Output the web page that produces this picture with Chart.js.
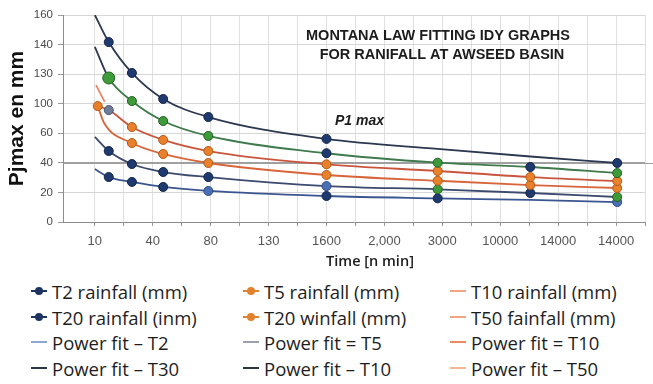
<!DOCTYPE html>
<html>
<head>
<meta charset="utf-8">
<script src="https://cdn.jsdelivr.net/npm/chart.js@4.4.1/dist/chart.umd.min.js"></script>
<style>
  body { margin:0; background:#fff; width:653px; height:384px; overflow:hidden; font-family:"Open Sans", sans-serif; }
  #wrap { position:absolute; left:0; top:0; width:653px; height:276px; }
  .item { position:absolute; height:24px; display:flex; align-items:center; font-size:18.5px; color:#1e1e1e; white-space:nowrap; }
  .icon { position:relative; width:16px; height:24px; margin-right:5px; flex:none; }
  .icon .ln { position:absolute; left:0; right:0; top:11px; height:2px; }
  .icon .dot { position:absolute; left:4px; top:8px; width:8px; height:8px; border-radius:50%; }
</style>
</head>
<body>
<div id="wrap"><canvas id="myChart" width="653" height="276"></canvas></div>
<div id="legend"></div>
<script>
/////////// data
// x tick labels, one per label step (0..9)
const xLabels = ['10', '40', '80', '130', '1600', '2,000', '3000', '10000', '14000', '14000'];
// printed y labels, they sit on the gridlines 0,20,...,140
const yLabels = ['0', '20', '40', '60', '100', '130', '140', '160'];

// where the fitted curves were read (in label steps)
const fitX  = [0, 0.24, 0.64, 1.18, 1.96, 4.0, 5.92, 7.52, 9.02];
const fitXC = [0.05, 0.24, 0.64, 1.18, 1.96, 4.0, 5.92, 7.52, 9.02];
const fitXD = [0.05, 0.16, 0.64, 1.18, 1.96, 4.0, 5.92, 7.52, 9.02];
// where the observed points sit
const obsX  = [0.05, 0.24, 0.64, 1.18, 1.96, 4.0, 5.92, 7.52, 9.02];

// power fit curves
const fitA = [140.0, 121.7, 100.8, 83.2, 71.0, 56.2, 49.4, 44.3, 39.9];
const fitB = [118.4, 97.4, 81.8, 68.3, 58.2, 46.5, 40.1, 37.2, 33.1];
const fitC = [78.4, 75.7, 64.2, 55.5, 48.0, 39.0, 34.5, 30.4, 27.7];
const fitD = [78.4, 67.0, 53.4, 46.0, 39.9, 31.8, 27.9, 25.0, 23.0];
const fitE = [57.5, 48.0, 39.2, 33.8, 30.4, 24.3, 22.1, 19.6, 16.9];
const fitF = [35.8, 30.4, 27.1, 23.7, 21.0, 17.6, 16.0, 14.9, 13.5];

// observed rainfall points (null = no marker)
const obsA = [null, 121.7, 100.8, 83.2, 71.0, 56.2, null, null, 39.9];
const obsB = [null, 97.4, 81.8, 68.3, 58.2, 46.5, 40.1, 37.2, 33.1];
const obsC = [null, 75.7, 64.2, 55.5, 48.0, 39.0, 34.5, 30.4, 27.7];
const obsD = [78.4, null, 53.4, 46.0, 39.9, 31.8, 27.9, 25.0, 23.0];
const obsE = [null, 48.0, 39.2, 33.8, 30.4, 24.3, 22.1, 19.6, 16.9];
const obsF = [null, 30.4, 27.1, 23.7, 21.0, 17.6, 16.0, null, 13.5];

// short T10 piece at the start
const segX = [0.02, 0.17];
const segY = [92.6, 81.2];

const legendNames = ['T2 rainfall (mm)', 'T5 rainfall (mm)', 'T10 rainfall (mm)',
                     'T20 rainfall (inm)', 'T20 winfall (mm)', 'T50 fainfall (mm)',
                     'Power fit \u2013 T2', 'Power fit = T5', 'Power fit = T10',
                     'Power fit \u2013 T30', 'Power fit \u2013 T10', 'Power fit \u2013 T50'];
const legendColors = ['#1d3461', '#e2822f', '#f2a582',
                      '#1d3461', '#e2822f', '#f2a582',
                      '#8ea8d6', '#9aa1ad', '#ea8c5e',
                      '#2e3440', '#2e3440', '#f3b98e'];
const legendDots = [true, true, false, true, true, false, false, false, false, false, false, false];

const titleLines = ['MONTANA LAW FITTING IDY GRAPHS', 'FOR RANIFALL AT AWSEED BASIN'];
const xTitle = 'Time [n min]';

/////////// helpers
const mk = { n: '#1f3a6e', o: '#e8802c', g: '#3f9a3a', b: '#4a6fb5', s: '#6f7d98' };
const mkBorder = { n: '#12244a', o: '#b35a18', g: '#216321', b: '#2c4a85', s: '#465370' };

function pts(xs, ys) {
  const out = [];
  for (let i = 0; i <= xs.length - 1; i++) {
    if (ys[i] !== null) out.push({ x: xs[i], y: ys[i] });
  }
  return out;
}

function fitLine(label, xs, ys, color) {
  return {
    label: label, data: pts(xs, ys), borderColor: color, borderWidth: 1.8,
    pointRadius: 0, cubicInterpolationMode: 'monotone', order: 2
  };
}

function markers(label, ys, keys, big) {
  const cols = [], borders = [], radius = [];
  for (let i = 0; i <= ys.length - 1; i++) {
    if (ys[i] === null) continue;
    cols.push(mk[keys[i]]);
    borders.push(mkBorder[keys[i]]);
    radius.push(big === i ? 6 : 4.5);
  }
  return {
    label: label, data: pts(obsX, ys), showLine: false, order: 0,
    pointBackgroundColor: cols, pointBorderColor: borders, pointBorderWidth: 1, pointRadius: radius
  };
}

/////////// extra text and the long 40 line
const notes = {
  id: 'notes',
  beforeDatasetsDraw(chart) {
    const ctx = chart.ctx;
    const y40 = chart.scales.y.getPixelForValue(40);
    ctx.save();
    ctx.strokeStyle = '#a0a0a0';
    ctx.lineWidth = 1;
    ctx.beginPath();
    ctx.moveTo(chart.chartArea.left, Math.round(y40) + 0.5);
    ctx.lineTo(chart.width, Math.round(y40) + 0.5);
    ctx.stroke();
    ctx.restore();
  },
  afterDraw(chart) {
    const ctx = chart.ctx;
    ctx.save();
    ctx.fillStyle = '#1c1c1c';
    ctx.textAlign = 'center';
    ctx.textBaseline = 'middle';
    ctx.font = 'bold 14.5px "Liberation Sans", Arial, sans-serif';
    ctx.fillText(titleLines[0], 438, 36);
    ctx.fillText(titleLines[1], 442, 55);
    ctx.font = '600 14.5px "Open Sans", sans-serif';
    ctx.fillText(xTitle, 370, 262);
    ctx.textAlign = 'left';
    ctx.font = 'italic bold 14px "Liberation Sans", Arial, sans-serif';
    ctx.fillText('P1 max', 335, 121);
    ctx.restore();
  }
};

const xSteps = [];
for (let v = 0; v <= 9.5; v += 0.5) xSteps.push(v);

const myChart = document.getElementById('myChart');

new Chart(myChart, {
  type: 'line',
  data: {
    datasets: [
      markers('T2 rainfall (mm)', obsA, ['n','n','n','n','n','n','n','n','n']),
      markers('T10 rainfall (mm)', obsB, ['g','g','g','g','g','n','g','n','g'], 1),
      markers('T5 rainfall (mm)', obsC, ['o','s','o','o','o','o','o','o','o']),
      markers('T20 winfall (mm)', obsD, ['o','o','o','o','o','o','o','o','o']),
      markers('T50 fainfall (mm)', obsE, ['n','n','n','n','n','b','g','n','g']),
      markers('T20 rainfall (inm)', obsF, ['n','n','n','n','b','n','n','n','b']),
      fitLine('Power fit \u2013 T30', fitX, fitA, '#2c3850'),
      Object.assign(fitLine('Power fit \u2013 T10', fitX, fitB, '#3f7a4c'), {
        segment: { borderColor: c => c.p0.parsed.x < 0.2 ? '#2c3850' : undefined }
      }),
      fitLine('Power fit = T10', fitXC, fitC, '#c9553c'),
      fitLine('Power fit \u2013 T50', fitXD, fitD, '#d8643a'),
      fitLine('Power fit = T5', fitX, fitE, '#3b4a6e'),
      fitLine('Power fit \u2013 T2', fitX, fitF, '#3a5590'),
      Object.assign(fitLine('T10 rainfall (mm)', segX, segY, '#e8866a'), { cubicInterpolationMode: 'default' })
    ]
  },
  options: {
    responsive: false,
    animation: false,
    devicePixelRatio: 1,
    layout: { padding: { top: 15, right: 6, left: 0, bottom: 0 } },
    plugins: { legend: { display: false }, tooltip: { enabled: false } },
    scales: {
      x: {
        type: 'linear', min: -0.55, max: 9.5,
        afterBuildTicks: s => { s.ticks = xSteps.map(v => ({ value: v })); },
        afterFit: s => { s.height = 54; },
        grid: {
          color: '#e0e0e0', tickLength: 4, tickColor: '#9a9a9a'
        },
        border: { color: '#8c8c8c' },
        ticks: {
          autoSkip: false, maxRotation: 0, padding: 8, color: '#555',
          font: { family: '"Liberation Sans", Arial, sans-serif', size: 13 },
          callback: v => Number.isInteger(v) ? xLabels[v] : ''
        }
      },
      y: {
        min: 0, max: 140,
        ticks: {
          stepSize: 10, padding: 5, color: '#4a4a4a',
          font: { family: '"Liberation Sans", Arial, sans-serif', size: 11.5 },
          callback: v => v % 20 === 0 ? yLabels[v / 20] : ''
        },
        afterFit: s => { s.width = 63; },
        grid: {
          tickLength: 5,
          color: c => c.tick.value === 40 ? '#a0a0a0' : (c.tick.value % 20 === 0 ? '#d6d6d6' : '#ededed'),
          tickColor: c => c.tick.value % 20 === 0 ? '#9a9a9a' : 'rgba(0,0,0,0)'
        },
        border: { color: '#8c8c8c' },
        title: {
          display: true, text: 'Pjmax en mm', color: '#111',
          font: { family: '"Liberation Sans", Arial, sans-serif', size: 21, weight: 'bold' },
          padding: { top: 5, bottom: 0 }
        }
      }
    }
  },
  plugins: [notes]
});

/////////// legend, three columns
const colX = [31, 243, 450];
const rowY = [291, 317, 342, 368];
const legend = document.getElementById('legend');
for (let i = 0; i <= legendNames.length - 1; i++) {
  const item = document.createElement('div');
  item.className = 'item';
  item.style.left = colX[i % 3] + 'px';
  item.style.top = (rowY[Math.floor(i / 3)] - 12) + 'px';
  const icon = document.createElement('span');
  icon.className = 'icon';
  const ln = document.createElement('span');
  ln.className = 'ln';
  ln.style.background = legendColors[i];
  icon.appendChild(ln);
  if (legendDots[i]) {
    const dot = document.createElement('span');
    dot.className = 'dot';
    dot.style.background = legendColors[i];
    icon.appendChild(dot);
  }
  item.appendChild(icon);
  item.appendChild(document.createTextNode(legendNames[i]));
  legend.appendChild(item);
}
</script>
</body>
</html>
